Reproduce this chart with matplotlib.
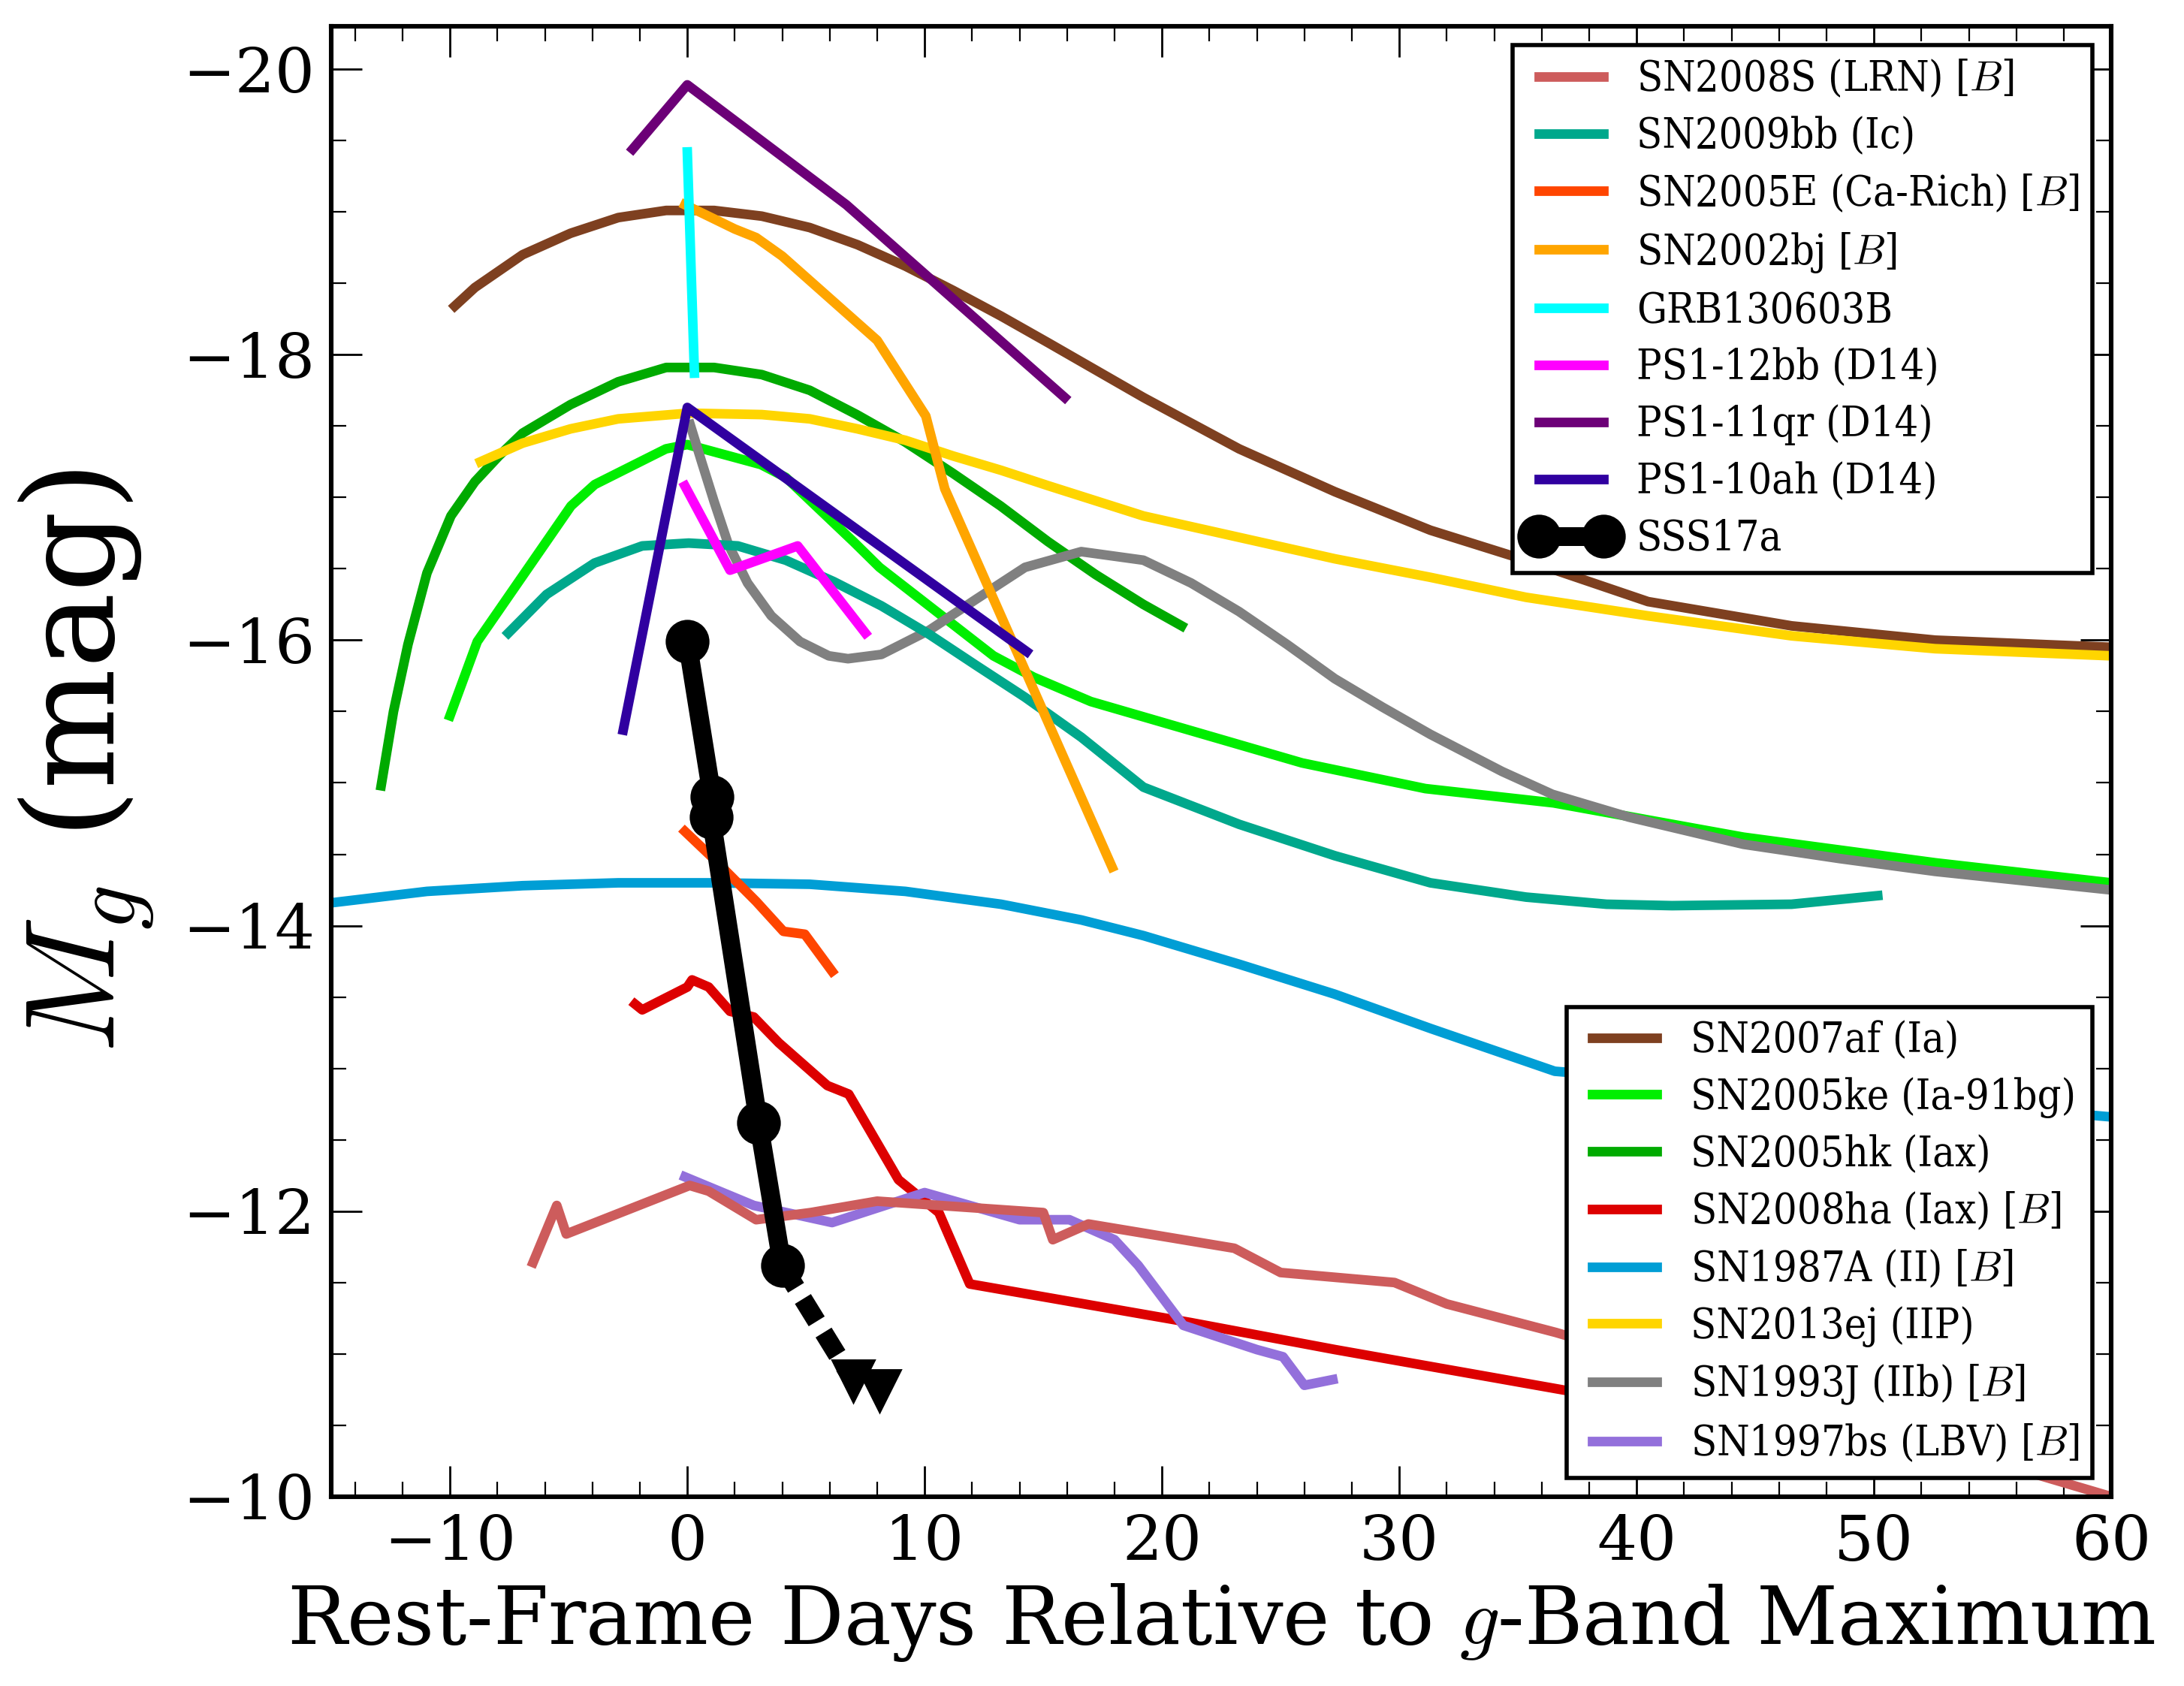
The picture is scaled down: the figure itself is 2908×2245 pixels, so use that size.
"""
Light-curve comparison: SSS17a against a set of fast/faint transients
(absolute g-band magnitude vs rest-frame days from g-band maximum).

Output: out.png
"""

import os
import matplotlib
matplotlib.use("Agg")
import matplotlib.pyplot as plt
from matplotlib import font_manager as fm
from matplotlib.legend_handler import HandlerLine2D
from matplotlib.ticker import MultipleLocator

plt.rcParams["font.family"] = "serif"
plt.rcParams["font.serif"] = ["DejaVu Serif"]
plt.rcParams["mathtext.fontset"] = "cm"

OUT_FILE = "out.png"

# -----------------------------
# Data (days, M_g)
# -----------------------------
# lower legend group
sn2007af_days = [-9.8, -8.95, -6.94, -4.92, -2.91, -0.89, 1.13, 3.14, 5.16, 7.17, 9.19, 11.2, 13.22,
                 15.24, 19.22, 23.25, 27.28, 31.31, 35.34, 40.48, 46.53, 52.58, 60.0]
sn2007af_mag = [-18.34, -18.47, -18.70, -18.85, -18.96, -19.01, -19.01, -18.97, -18.89, -18.77, -18.62,
                -18.45, -18.27, -18.08, -17.70, -17.34, -17.04, -16.77, -16.56, -16.27, -16.10, -16.00,
                -15.95]

sn2005ke_days = [-10.0, -8.85, -4.9, -3.9, -0.9, 0.0, 3.1, 4.15, 7.0, 8.1, 12.9, 14.6, 17.0, 25.9, 31.1,
                 36.5, 44.5, 52.6, 60.0]
sn2005ke_mag = [-15.47, -15.99, -16.94, -17.09, -17.34, -17.37, -17.23, -17.14, -16.69, -16.51, -15.89,
                -15.74, -15.57, -15.14, -14.96, -14.86, -14.62, -14.44, -14.30]

sn2005hk_days = [-12.9, -12.38, -11.77, -10.97, -9.96, -8.95, -7.94, -6.94, -4.92, -2.91, -0.89, 1.13,
                 3.14, 5.16, 7.14, 9.16, 11.18, 13.2, 15.2, 17.2, 19.22, 20.83]
sn2005hk_mag = [-14.98, -15.50, -15.97, -16.47, -16.87, -17.11, -17.29, -17.45, -17.65, -17.81, -17.91,
                -17.91, -17.86, -17.75, -17.58, -17.39, -17.17, -16.94, -16.69, -16.46, -16.25, -16.10]

sn2008ha_days = [-2.2, -1.9, 0.0, 0.2, 0.9, 1.8, 2.8, 3.85, 5.9, 6.8, 8.9, 10.6, 11.9, 21.2, 27.3, 37.5]
sn2008ha_mag = [-13.45, -13.41, -13.57, -13.62, -13.57, -13.40, -13.36, -13.18, -12.88, -12.82, -12.22,
                -11.99, -11.49, -11.22, -11.03, -10.73]

sn1987a_days = [-15.0, -10.97, -6.94, -2.91, 1.13, 5.16, 9.19, 13.22, 16.6, 19.22, 23.25, 27.28, 31.31,
                36.55, 58.6, 60.0]
sn1987a_mag = [-14.16, -14.24, -14.28, -14.30, -14.30, -14.29, -14.24, -14.15, -14.04, -13.93, -13.73,
               -13.52, -13.28, -12.98, -12.68, -12.66]

sn2013ej_days = [-8.71, -6.94, -4.92, -2.91, 0.06, 3.14, 5.16, 7.17, 9.19, 11.2, 13.22, 15.24, 19.22,
                 23.25, 27.28, 31.31, 35.34, 40.48, 46.53, 52.58, 60.0]
sn2013ej_mag = [-17.25, -17.38, -17.48, -17.55, -17.59, -17.58, -17.55, -17.48, -17.40, -17.29, -17.19,
                -17.08, -16.87, -16.72, -16.57, -16.44, -16.30, -16.17, -16.03, -15.94, -15.89]

sn1993j_days = [0.12, 0.62, 1.13, 1.73, 2.54, 3.54, 4.75, 5.96, 6.77, 8.18, 10.2, 12.2, 14.23, 16.6,
                19.22, 21.23, 23.25, 25.27, 27.28, 29.3, 31.31, 34.33, 36.45, 39.68, 44.5, 48.55, 52.58, 60.0]
sn1993j_mag = [-17.51, -17.24, -16.97, -16.67, -16.40, -16.17, -15.99, -15.89, -15.87, -15.90, -16.07,
               -16.29, -16.51, -16.62, -16.56, -16.40, -16.20, -15.97, -15.73, -15.53, -15.34, -15.08,
               -14.92, -14.76, -14.57, -14.47, -14.38, -14.25]

sn1997bs_days = [-0.1, 2.8, 6.1, 10.0, 14.0, 16.1, 18.0, 19.0, 20.9, 24.0, 25.1, 26.0, 27.2]
sn1997bs_mag = [-12.24, -12.04, -11.92, -12.13, -11.94, -11.94, -11.80, -11.62, -11.20, -11.03, -10.98,
                -10.78, -10.82]

# upper legend group
sn2008s_days = [-6.5, -5.5, -5.1, 0.1, 0.9, 2.9, 5.2, 8.0, 15.0, 15.4, 16.9, 23.05, 25.0, 29.8, 32.0, 36.6, 60.0]
sn2008s_mag = [-11.64, -12.04, -11.84, -12.18, -12.14, -11.94, -11.99, -12.07, -11.99, -11.80, -11.91,
               -11.74, -11.57, -11.50, -11.35, -11.15, -10.00]

sn2009bb_days = [-7.54, -5.93, -3.91, -1.9, 0.06, 2.13, 4.15, 6.17, 8.18, 10.2, 12.2, 14.23, 16.6, 19.22,
                 23.25, 27.28, 31.31, 35.34, 38.73, 41.49, 46.53, 50.16]
sn2009bb_mag = [-16.05, -16.32, -16.54, -16.66, -16.68, -16.66, -16.56, -16.41, -16.24, -16.04, -15.82,
                -15.60, -15.32, -14.97, -14.71, -14.49, -14.30, -14.20, -14.15, -14.14, -14.15, -14.21]

sn2005e_days = [-0.1, 1.1, 2.9, 4.05, 4.95, 6.1]
sn2005e_mag = [-14.66, -14.47, -14.17, -13.96, -13.94, -13.68]

sn2002bj_days = [-0.1, 2.0, 2.9, 4.0, 8.0, 10.05, 10.85, 17.9]
sn2002bj_mag = [-19.05, -18.88, -18.82, -18.69, -18.10, -17.57, -17.06, -14.41]

grb130603b_days = [0.0, 0.3]
grb130603b_mag = [-19.42, -17.87]

ps1_12bb_days = [-0.1, 1.8, 4.65, 7.5]
ps1_12bb_mag = [-17.08, -16.49, -16.66, -16.05]

ps1_11qr_days = [-2.3, 0.0, 6.7, 15.9]
ps1_11qr_mag = [-19.44, -19.89, -19.05, -17.70]

ps1_10ah_days = [-2.7, 0.0, 14.3]
ps1_10ah_mag = [-15.37, -17.63, -15.92]

sss17a_days = [0.0, 1.05, 1.0, 3.0, 4.0]
sss17a_mag = [-15.99, -14.90, -14.76, -12.62, -11.62]

# SSS17a upper limits
sss17a_lim_days = [7.0, 8.1]
sss17a_lim_mag = [-10.81, -10.74]


LOWER = [
    ("SN2007af (Ia)", sn2007af_days, sn2007af_mag, "#7E4020"),
    ("SN2005ke (Ia-91bg)", sn2005ke_days, sn2005ke_mag, "#00EE00"),
    ("SN2005hk (Iax)", sn2005hk_days, sn2005hk_mag, "#00AA00"),
    (r"SN2008ha (Iax) [$B$]", sn2008ha_days, sn2008ha_mag, "#DD0000"),
    (r"SN1987A (II) [$B$]", sn1987a_days, sn1987a_mag, "#009ED5"),
    ("SN2013ej (IIP)", sn2013ej_days, sn2013ej_mag, "#FFD500"),
    (r"SN1993J (IIb) [$B$]", sn1993j_days, sn1993j_mag, "#808080"),
    (r"SN1997bs (LBV) [$B$]", sn1997bs_days, sn1997bs_mag, "#9370DB"),
]

UPPER = [
    (r"SN2008S (LRN) [$B$]", sn2008s_days, sn2008s_mag, "#CD5C5C"),
    ("SN2009bb (Ic)", sn2009bb_days, sn2009bb_mag, "#00A88C"),
    (r"SN2005E (Ca-Rich) [$B$]", sn2005e_days, sn2005e_mag, "#FF4500"),
    (r"SN2002bj [$B$]", sn2002bj_days, sn2002bj_mag, "#FFA500"),
    ("GRB130603B", grb130603b_days, grb130603b_mag, "#00FFFF"),
    ("PS1-12bb (D14)", ps1_12bb_days, ps1_12bb_mag, "#FF00FF"),
    ("PS1-11qr (D14)", ps1_11qr_days, ps1_11qr_mag, "#6C0077"),
    ("PS1-10ah (D14)", ps1_10ah_days, ps1_10ah_mag, "#3000A0"),
]

LW = 4.6


def legend_style():
    """Legend text is narrow in the original: use condensed DejaVu Serif if it exists."""
    cond = [f.fname for f in fm.fontManager.ttflist
            if os.path.basename(f.fname).lower() == "dejavuserifcondensed.ttf"]
    if cond:
        prop = fm.FontProperties(fname=cond[0], size=20)
        return dict(prop=prop, handlelength=2.15, handletextpad=0.5, labelspacing=0.38, borderpad=0.32)
    prop = fm.FontProperties(family="DejaVu Serif", size=17.5)
    return dict(prop=prop, handlelength=2.35, handletextpad=0.6, labelspacing=0.58, borderpad=0.45)


def main() -> None:
    fig = plt.figure(figsize=(14.54, 11.225), dpi=200)
    ax = fig.add_axes([0.1517, 0.1123, 0.8150, 0.8721])

    lower_handles = []
    for label, x, y, c in LOWER:
        h, = ax.plot(x, y, color=c, lw=LW, label=label)
        lower_handles.append(h)

    upper_handles = []
    for label, x, y, c in UPPER:
        h, = ax.plot(x, y, color=c, lw=LW, label=label)
        upper_handles.append(h)

    # SSS17a detections + dashed link to the upper limits
    ax.plot([sss17a_days[-1], sss17a_lim_days[0]], [sss17a_mag[-1], sss17a_lim_mag[0]],
            color="black", lw=9, dashes=(1.4, 0.7), zorder=5)
    ax.plot(sss17a_lim_days, sss17a_lim_mag, ls="none", marker="v", ms=20, color="black", zorder=6)
    h, = ax.plot(sss17a_days, sss17a_mag, color="black", lw=9, marker="o", ms=20,
                 label="SSS17a", zorder=7)
    upper_handles.append(h)

    ax.set_xlim(-15, 60)
    ax.set_ylim(-10, -20.3)

    ax.xaxis.set_major_locator(MultipleLocator(10))
    ax.xaxis.set_minor_locator(MultipleLocator(2))
    ax.yaxis.set_major_locator(MultipleLocator(2))
    ax.yaxis.set_minor_locator(MultipleLocator(0.5))
    ax.tick_params(which="both", direction="in", top=True, right=True)
    ax.tick_params(which="major", length=14.8, width=1.0, labelsize=30, pad=8)
    ax.tick_params(which="minor", length=7.2, width=0.8)
    for s in ax.spines.values():
        s.set_linewidth(2.2)

    ax.set_xlabel(r"Rest-Frame Days Relative to $g$-Band Maximum", fontsize=38)
    ax.set_ylabel(r"$M_g$ (mag)", fontsize=61, labelpad=12)

    style = legend_style()
    common = dict(numpoints=2, fancybox=False, edgecolor="black", framealpha=1.0,
                  borderaxespad=0.45, **style)
    leg1 = ax.legend(handles=upper_handles, loc="upper right", **common)
    leg1.get_frame().set_linewidth(2.0)
    leg1.set_zorder(20)
    ax.add_artist(leg1)
    leg2 = ax.legend(handles=lower_handles, loc="lower right", **common)
    leg2.get_frame().set_linewidth(2.0)
    leg2.set_zorder(20)

    fig.savefig(OUT_FILE, dpi=200, facecolor="white")
    plt.close(fig)


if __name__ == "__main__":
    main()
